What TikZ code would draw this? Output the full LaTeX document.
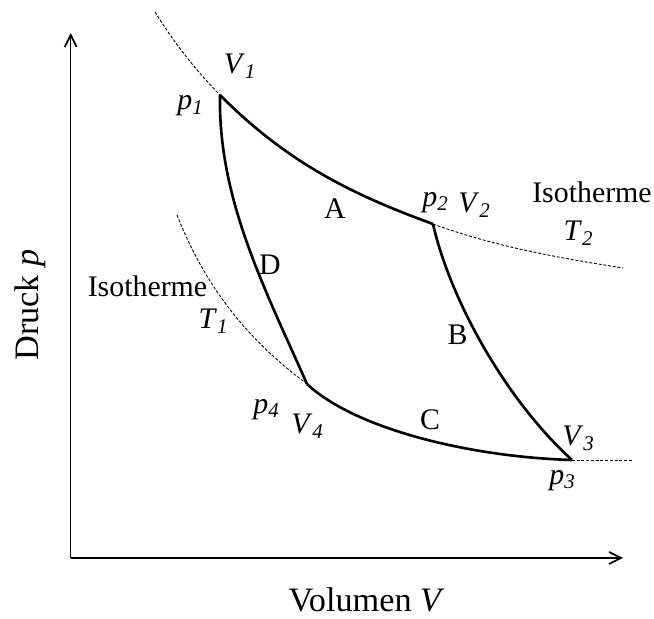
\documentclass[tikz,border=0pt]{standalone}
\usepackage{fontspec}
\setmainfont{Liberation Serif}
\usetikzlibrary{arrows.meta}

% italic symbol with italic index, e.g. p_1
\newcommand{\qsym}[2]{\textit{#1}\textsubscript{\textit{#2}}}

\begin{document}
\begin{tikzpicture}[
  x=0.02cm, y=0.02cm,
  font=\fontsize{17}{20}\selectfont,
  >={Straight Barb[length=2.4mm, width=2.4mm, line width=1pt]},
  axis/.style={line width=0.9pt},
  axis-lbl/.style={font=\fontsize{19.5}{23}\selectfont, inner sep=0pt},
  cycle/.style={line width=1.5pt, line join=round},
  iso/.style={line width=0.5pt, dash pattern=on 1.7pt off 1pt},
  lbl/.style={inner sep=0pt}
]
  \useasboundingbox (0,0) rectangle (654,619);

  % corners of the cycle
  \coordinate (P1) at (220,524);
  \coordinate (P2) at (433,395);
  \coordinate (P3) at (572,159);
  \coordinate (P4) at (307,235);
  \coordinate (O)  at (70.7,61);
  \coordinate (Ytop) at (70.7,586);
  \coordinate (Xend) at (623,61);
  \coordinate (T2a) at (155,607);
  \coordinate (T2b) at (623,351);
  \coordinate (T1a) at (177,404);
  \coordinate (T1b) at (632,159);

  % axes
  \draw[axis, ->] (O) -- (Ytop);
  \draw[axis, ->] (O) -- (Xend);
  \node[axis-lbl, rotate=90] (ylbl) at (30,314) {Druck \textit{p}};
  \node[axis-lbl] (xlbl) at (366.5,19) {Volumen \textit{V}};

  % ===========================================================
  % isotherms (dotted continuations)
  % ===========================================================
  \draw[iso] (T2a) .. controls (176.7,572.3) and (198.3,546) .. (P1);
  \draw[iso] (P2) .. controls (496,372) and (560,361) .. (T2b);
  \draw[iso] (T1a) .. controls (212,314) and (267,265) .. (P4);
  \draw[iso] (P3) -- (T1b);

  % ===========================================================
  % the cycle A-B-C-D
  % ===========================================================
  \draw[cycle] (P1) .. controls (291,452) and (362,421) .. (P2);  % A
  \draw[cycle] (P2) .. controls (450,320) and (505,220) .. (P3);  % B
  \draw[cycle] (P4) .. controls (355,190) and (470,162) .. (P3);  % C
  \draw[cycle] (P4) .. controls (265,330) and (218,420) .. (P1);  % D

  % labels
  \node[lbl] (lV1) at (240,552.5) {\qsym{V}{1}};
  \node[lbl] (lp1) at (190.5,513) {\qsym{p}{1}};
  \node[lbl] (lp2) at (435.5,416.5) {\qsym{p}{2}};
  \node[lbl] (lV2) at (474.5,413.5) {\qsym{V}{2}};
  \node[lbl] (lp3) at (562.5,138.5) {\qsym{p}{3}};
  \node[lbl] (lV3) at (578.5,180.5) {\qsym{V}{3}};
  \node[lbl] (lp4) at (266.5,209.5) {\qsym{p}{4}};
  \node[lbl] (lV4) at (307.5,193) {\qsym{V}{4}};

  \node[lbl] (lA) at (335,410) {A};
  \node[lbl] (lB) at (457.5,284) {B};
  \node[lbl] (lC) at (430,199) {C};
  \node[lbl] (lD) at (270,354) {D};

  \node[lbl] (iso2) at (592,426.5) {Isotherme};
  \node[lbl] (lT2) at (578.5,385.5) {\qsym{T}{2}};
  \node[lbl] (iso1) at (147.5,333) {Isotherme};
  \node[lbl] (lT1) at (213.5,297.5) {\qsym{T}{1}};

\end{tikzpicture}
\end{document}
